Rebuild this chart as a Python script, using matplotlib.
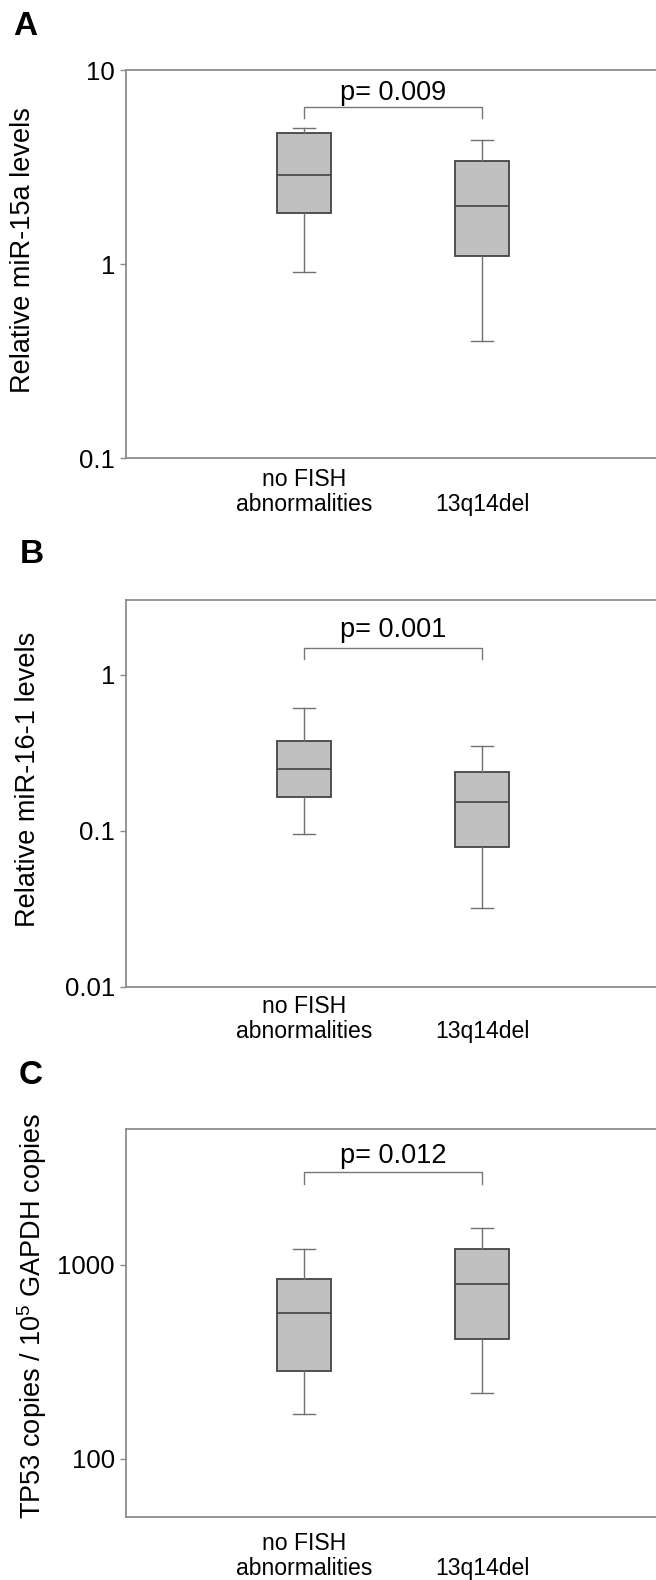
import matplotlib
matplotlib.use('Agg')
import matplotlib.pyplot as plt
from matplotlib.ticker import NullLocator

plt.rcParams['font.family'] = ['Liberation Sans', 'DejaVu Sans']
plt.rcParams['mathtext.fontset'] = 'custom'
plt.rcParams['mathtext.rm'] = 'Liberation Sans'

# groups on the x axis (second label sits on the lower line)
groups = ['no FISH\nabnormalities', '\n13q14del']

# box summaries: whisker low, q1, median, q3, whisker high
mir15a_nofish = [0.91, 1.83, 2.87, 4.72, 5.05]
mir15a_del = [0.40, 1.10, 1.98, 3.38, 4.36]
mir16_nofish = [0.096, 0.165, 0.247, 0.376, 0.612]
mir16_del = [0.032, 0.0785, 0.152, 0.238, 0.350]
tp53_nofish = [169, 284, 564, 847, 1209]
tp53_del = [217, 412, 798, 1199, 1551]

pvalues = ['p= 0.009', 'p= 0.001', 'p= 0.012']
panel_letters = ['A', 'B', 'C']
ylabels = ['Relative miR-15a levels',
           'Relative miR-16-1 levels',
           r'TP53 copies / 10$\mathregular{^5}$ GAPDH copies']
yticks = [[0.1, 1, 10], [0.01, 0.1, 1], [100, 1000]]
yticklabels = [['0.1', '1', '10'], ['0.01', '0.1', '1'], ['100', '1000']]
ylims = [(0.1, 10), (0.01, 3), (50, 5000)]

W, H = 656, 1580

# layout in pixels: axes top/bottom, y label x/y, letter x/baseline, x label pad
layout = [
    dict(top=70, bottom=458, ylab=(23, 250), letter=(13, 35), pad=7),
    dict(top=600, bottom=987, ylab=(28, 779), letter=(20, 563), pad=6),
    dict(top=1129, bottom=1517, ylab=(32, 1316), letter=(19, 1084), pad=11),
]
# bracket (low end, top) and p text baseline, in data units
brackets = [(5.68, 6.48, 7.0), (1.25, 1.48, 1.74), (2594, 2993, 3320)]

data = [(mir15a_nofish, mir15a_del), (mir16_nofish, mir16_del), (tp53_nofish, tp53_del)]

fig = plt.figure(figsize=(W / 100, H / 100), dpi=100)
axis_col = '#8c8c8c'

def make_stats(v):
    return dict(whislo=v[0], q1=v[1], med=v[2], q3=v[3], whishi=v[4], fliers=[])

left_px = 126
unit_px = 178  # pixels per x unit
for i in range(3):
    lay = layout[i]
    ax = fig.add_axes([left_px / W, 1 - lay['bottom'] / H,
                       3 * unit_px / W, (lay['bottom'] - lay['top']) / H])
    ax.set_yscale('log')
    st = [make_stats(v) for v in data[i]]
    ax.bxp(st, positions=[1, 2], widths=0.3, capwidths=0.122, showfliers=False,
           patch_artist=True,
           boxprops=dict(facecolor='#c0c0c0', edgecolor='#444444', linewidth=1.3),
           medianprops=dict(color='#444444', linewidth=1.2),
           whiskerprops=dict(color='#707070', linewidth=1),
           capprops=dict(color='#707070', linewidth=1))
    ax.set_xlim(0, 3)
    ax.set_ylim(*ylims[i])
    ax.set_yticks(yticks[i])
    ax.set_yticklabels(yticklabels[i])
    ax.yaxis.set_minor_locator(NullLocator())
    ax.set_xticks([1, 2])
    ax.set_xticklabels(groups, fontsize=16.6, linespacing=1.1)
    ax.tick_params(axis='x', length=0, pad=lay['pad'])
    ax.tick_params(axis='y', length=4, width=1, color=axis_col, pad=4, labelsize=18.5)
    ax.spines['right'].set_visible(False)
    for s in ['left', 'top', 'bottom']:
        ax.spines[s].set_color(axis_col)
        ax.spines[s].set_linewidth(1.3)

    # significance bracket
    lo, hi, tb = brackets[i]
    ax.plot([1, 1, 2, 2], [lo, hi, hi, lo], color='#777777', lw=1)
    ax.text(1.5, tb, pvalues[i], ha='center', va='baseline', fontsize=19.5)

    fig.text(lay['ylab'][0] / W, 1 - lay['ylab'][1] / H, ylabels[i],
             rotation=90, ha='center', va='center', fontsize=19.5)
    fig.text(lay['letter'][0] / W, 1 - lay['letter'][1] / H, panel_letters[i],
             ha='left', va='baseline', fontsize=24, fontweight='bold')

fig.savefig('out.png', dpi=100)
